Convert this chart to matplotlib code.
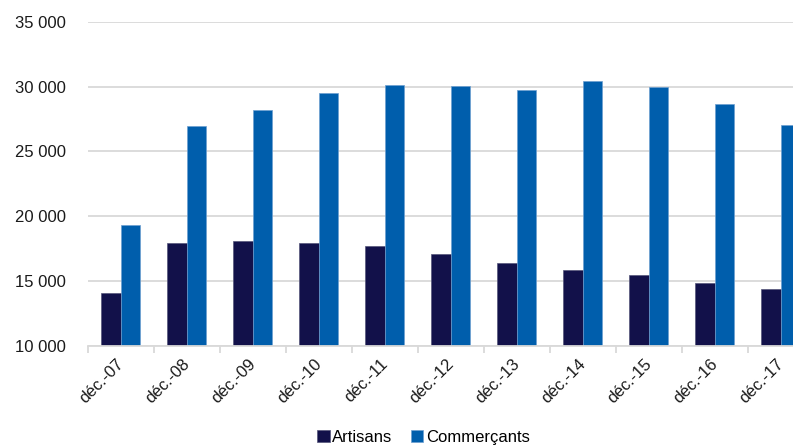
import matplotlib
matplotlib.use("Agg")
import matplotlib.pyplot as plt
import matplotlib.transforms as mtransforms
from matplotlib.ticker import FuncFormatter, FixedLocator
import numpy as np

plt.rcParams['font.family'] = ['Liberation Sans', 'DejaVu Sans']

# data
categories = ['déc.-07', 'déc.-08', 'déc.-09', 'déc.-10', 'déc.-11', 'déc.-12',
              'déc.-13', 'déc.-14', 'déc.-15', 'déc.-16', 'déc.-17']
artisans = [14050, 17950, 18080, 17950, 17690, 17100, 16400, 15840, 15500, 14820, 14400]
commercants = [19350, 27000, 28200, 29480, 30110, 30040, 29730, 30420, 30000, 28700, 27030]

dark = '#12114a'
blue = '#005eac'
grid_col = '#d9d9d9'

fig = plt.figure(figsize=(7.93, 4.48), dpi=100)
ax = fig.add_axes([0.111, 0.228, 0.9155, 0.7232])

x = np.arange(len(categories))
w = 0.295
ax.bar(x - w / 2 - 0.005, artisans, width=w, color=dark, edgecolor='#55557a',
       linewidth=0.5, label='Artisans', zorder=3)
ax.bar(x + w / 2 - 0.005, commercants, width=w, color=blue, edgecolor='#6d9fd0',
       linewidth=0.5, label='Commerçants', zorder=3)

ax.set_xlim(-0.5, len(categories) - 0.5)
ax.set_ylim(10000, 35000)
ax.set_yticks(range(10000, 35001, 5000))
ax.yaxis.set_major_formatter(FuncFormatter(lambda v, p: f'{int(v):,}'.replace(',', ' ')))
ax.grid(axis='y', color=grid_col, linewidth=1.3, zorder=0)

ax.set_xticks(x)
ax.set_xticklabels(categories, rotation=45, ha='right', va='top', rotation_mode='anchor')
ax.xaxis.set_minor_locator(FixedLocator(np.arange(-0.5, len(categories), 1.0)))
ax.tick_params(axis='x', which='major', length=0, pad=8, labelsize=12, labelcolor='#1a1a1a')
ax.tick_params(axis='x', which='minor', length=5, width=1.3, color=grid_col)
ax.tick_params(axis='y', length=0, pad=16, labelsize=12, labelcolor='#1a1a1a')

# nudge the rotated labels a little to the left
shift = mtransforms.ScaledTranslation(-5 / 100, 1 / 100, fig.dpi_scale_trans)
for lbl in ax.get_xticklabels():
    lbl.set_transform(lbl.get_transform() + shift)

for s in ['top', 'right', 'left']:
    ax.spines[s].set_visible(False)
ax.spines['bottom'].set_color(grid_col)
ax.spines['bottom'].set_linewidth(1.3)
ax.spines['bottom'].set_zorder(4)

fig.legend(loc='center', bbox_to_anchor=(0.534, 0.023), ncol=2, frameon=False,
           fontsize=12, handlelength=0.75, handleheight=0.75, handletextpad=0.15,
           columnspacing=1.1, borderaxespad=0)

fig.savefig('out.png', dpi=100)
